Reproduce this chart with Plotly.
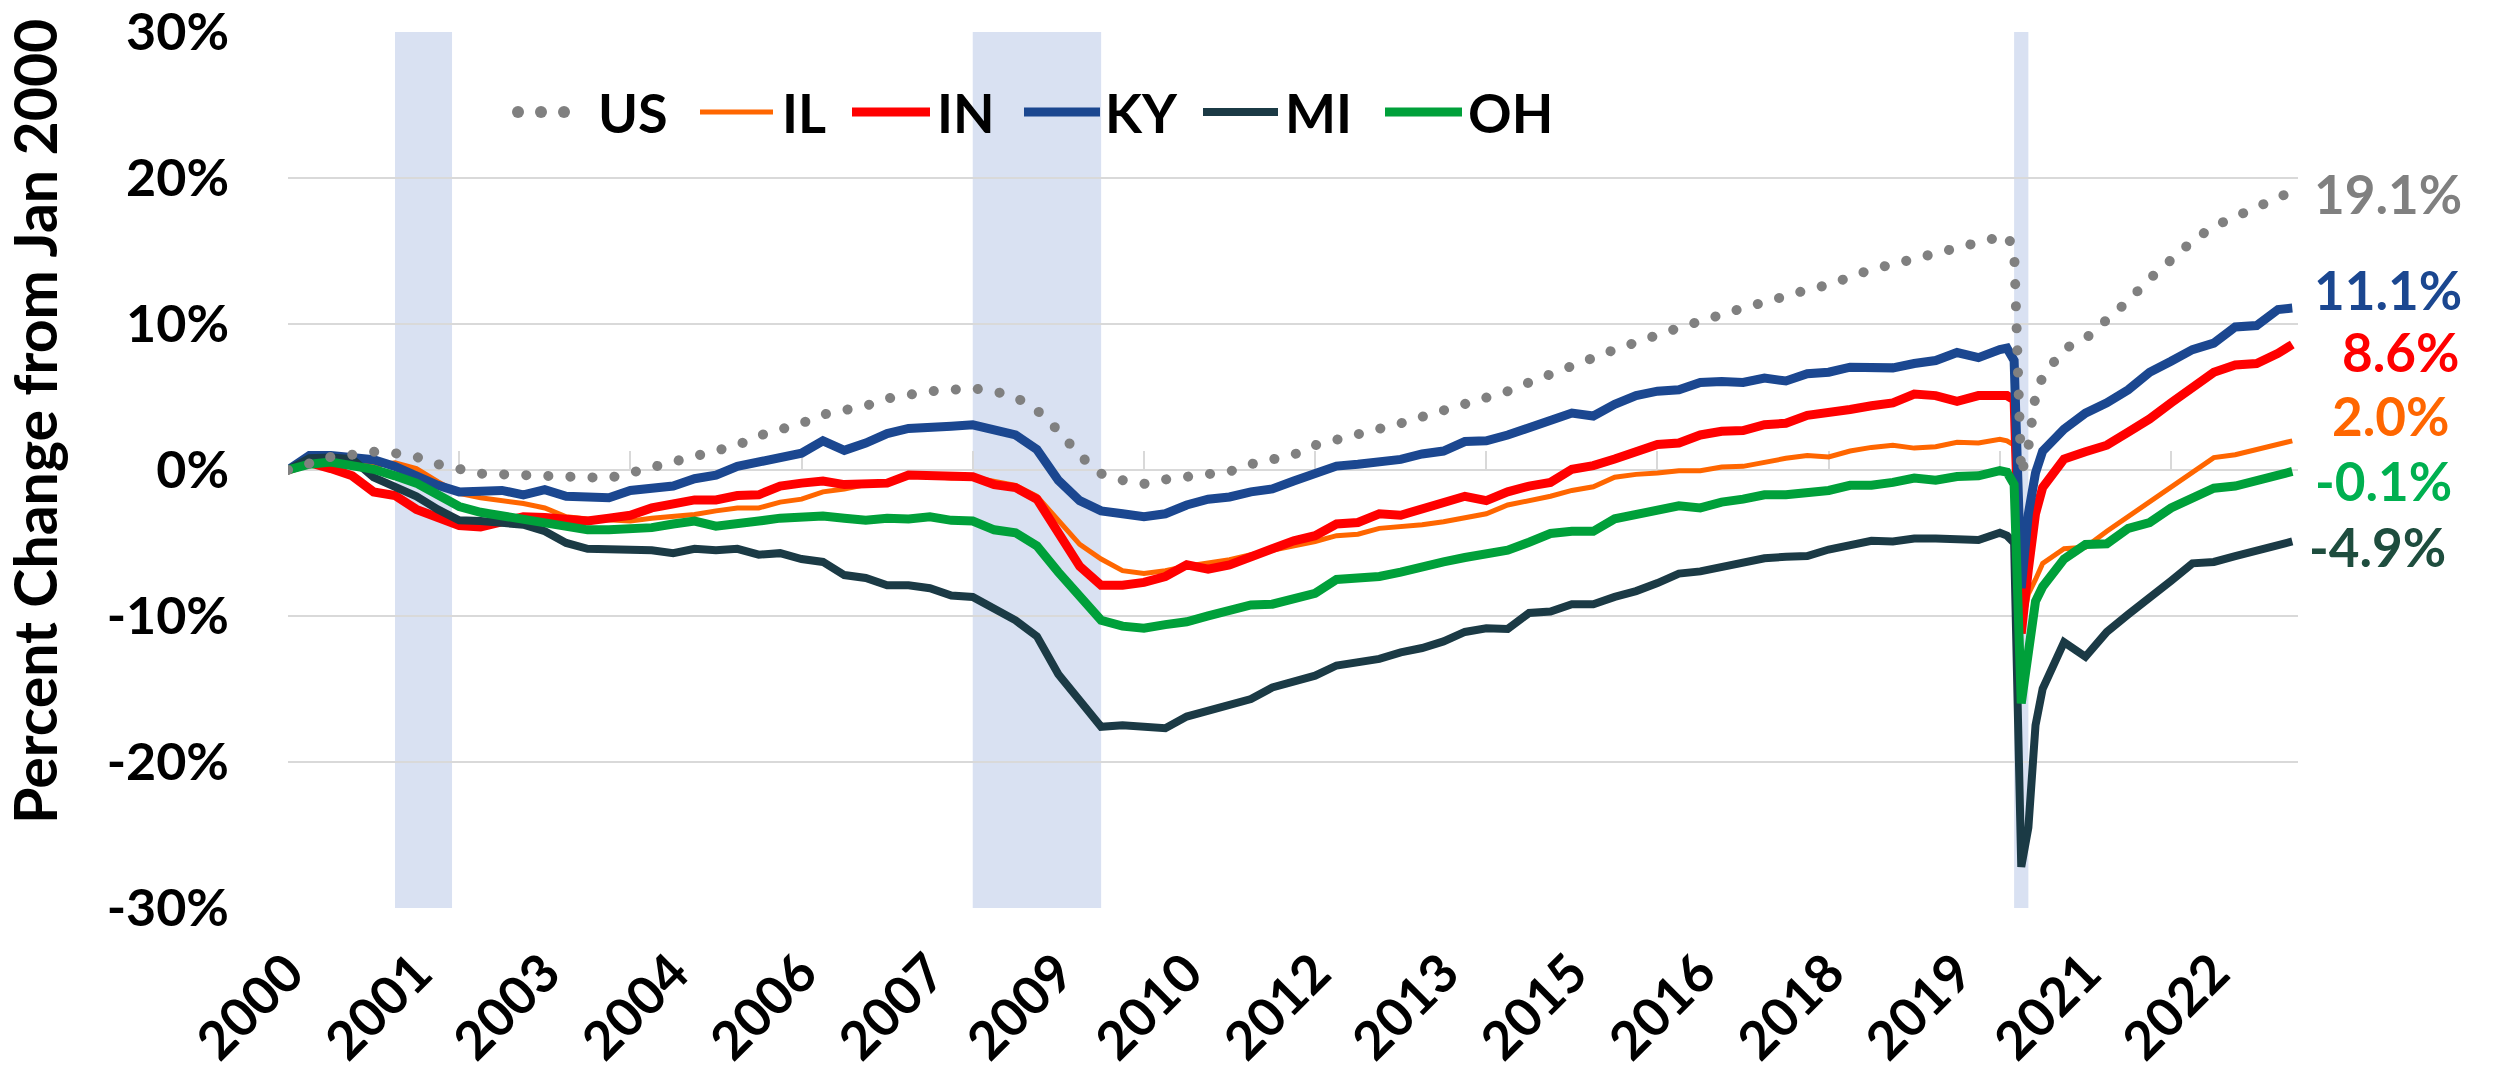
import plotly.graph_objects as go

# ---------------- data (percent change from Jan 2000) ----------------
# month index counted from Jan 2000 (0 = Jan 2000)
MONTHS = [
    0, 3, 6, 9, 12, 15, 18, 21, 24, 27,
    30, 33, 36, 39, 42, 45, 48, 51, 54, 57,
    60, 63, 66, 69, 72, 75, 78, 81, 84, 87,
    90, 93, 96, 99, 102, 105, 108, 111, 114, 117,
    120, 123, 126, 129, 132, 135, 138, 141, 144, 147,
    150, 153, 156, 159, 162, 165, 168, 171, 174, 177,
    180, 183, 186, 189, 192, 195, 198, 201, 204, 207,
    210, 213, 216, 219, 222, 225, 228, 231, 234, 237,
    240, 241, 242, 243, 244, 245, 246,
    249, 252, 255, 258, 261, 264, 267, 270, 273, 276, 279, 281,
]

US = [
    0.0, 0.5, 0.9, 1.05, 1.25, 1.15, 0.9, 0.4, 0.0, -0.25,
    -0.3, -0.35, -0.4, -0.55, -0.6, -0.55, -0.2, 0.2, 0.6, 0.9,
    1.3, 1.7, 2.35, 2.75, 3.2, 3.8, 4.1, 4.4, 4.9, 5.2,
    5.4, 5.5, 5.6, 5.4, 5.0, 4.1, 2.7, 1.0, -0.25, -0.7,
    -0.95, -0.65, -0.5, -0.3, -0.1, 0.4, 0.7, 1.05, 1.7, 2.05,
    2.4, 2.75, 3.2, 3.65, 4.05, 4.55, 4.95, 5.4, 6.0, 6.6,
    7.2, 7.7, 8.25, 8.75, 9.3, 9.75, 10.2, 10.7, 11.1, 11.5,
    12.0, 12.35, 12.7, 13.3, 13.75, 14.1, 14.5, 14.8, 15.2, 15.6,
    16.0, 16.1, 15.1, -0.3, 1.6, 5.1, 6.4,
    8.3, 9.0, 10.2, 11.6, 13.1, 14.5, 15.7, 16.7, 17.4, 18.1, 18.8, 19.1,
]

IL = [
    0.0, 0.4, 0.5, 0.4, 0.3, 0.5, 0.1, -0.8, -1.6, -1.9,
    -2.1, -2.3, -2.6, -3.2, -3.35, -3.45, -3.5, -3.3, -3.15, -3.05,
    -2.8, -2.6, -2.6, -2.2, -2.0, -1.5, -1.3, -1.0, -0.8, -0.45,
    -0.45, -0.55, -0.5, -0.8, -1.05, -1.8, -3.5, -5.1, -6.1, -6.9,
    -7.1, -6.9, -6.6, -6.4, -6.15, -5.8, -5.5, -5.2, -4.9, -4.5,
    -4.4, -4.0, -3.9, -3.75, -3.55, -3.3, -3.0, -2.4, -2.1, -1.8,
    -1.4, -1.15, -0.5, -0.3, -0.2, -0.05, -0.05, 0.2, 0.25, 0.55,
    0.8, 1.0, 0.9, 1.3, 1.55, 1.7, 1.5, 1.6, 1.9, 1.85,
    2.1, 2.0, 1.7, -10.8, -8.5, -7.5, -6.4,
    -5.4, -5.3, -4.2, -3.2, -2.2, -1.2, -0.2, 0.85, 1.05, 1.4, 1.8, 2.0,
]

IN = [
    0.0, 0.5, 0.1, -0.4, -1.5, -1.75, -2.7, -3.2, -3.8, -3.9,
    -3.6, -3.2, -3.25, -3.4, -3.5, -3.3, -3.1, -2.6, -2.25, -2.05,
    -2.05, -1.75, -1.7, -1.1, -0.9, -0.75, -1.0, -1.0, -0.9, -0.35,
    -0.4, -0.55, -0.46, -1.0, -1.2, -2.0, -4.3, -6.6, -7.9, -7.9,
    -7.7, -7.3, -6.5, -6.8, -6.5, -5.9, -5.3, -4.85, -4.5, -3.7,
    -3.6, -3.0, -3.1, -2.7, -2.2, -1.8, -2.1, -1.5, -1.1, -0.85,
    0.05, 0.3, 0.75, 1.3, 1.75, 1.85, 2.4, 2.65, 2.7, 3.1,
    3.2, 3.75, 3.9, 4.15, 4.4, 4.6, 5.2, 5.1, 4.7, 5.1,
    5.1, 5.1, 4.8, -11.2, -6.8, -3.0, -1.2,
    0.75, 1.25, 1.7, 2.6, 3.5, 4.6, 5.6, 6.7, 7.2, 7.3, 8.0, 8.6,
]

KY = [
    0.0, 1.0, 1.0, 0.9, 0.7, 0.25, -0.45, -1.05, -1.5, -1.4,
    -1.4, -1.7, -1.35, -1.8, -1.8, -1.9, -1.4, -1.2, -1.1, -0.6,
    -0.35, 0.25, 0.55, 0.95, 1.15, 2.0, 1.35, 1.85, 2.5, 2.85,
    3.0, 3.0, 3.1, 2.75, 2.4, 1.4, -0.7, -2.1, -2.8, -3.0,
    -3.2, -3.0, -2.4, -2.0, -1.85, -1.5, -1.3, -0.75, -0.2, 0.27,
    0.4, 0.5, 0.73, 1.1, 1.3, 1.95, 2.0, 2.4, 2.9, 3.4,
    3.9, 3.7, 4.5, 5.1, 5.4, 5.5, 6.0, 6.06, 6.0, 6.3,
    6.1, 6.6, 6.7, 7.05, 7.1, 7.0, 7.3, 7.5, 8.05, 7.7,
    8.25, 8.35, 7.5, -8.1, -3.0, -0.2, 1.3,
    2.8, 3.9, 4.6, 5.5, 6.7, 7.45, 8.25, 8.7, 9.8, 9.9, 11.0, 11.1,
]

MI = [
    0.0, 0.8, 0.85, 0.75, -0.5, -1.2, -1.8, -2.7, -3.45, -3.5,
    -3.6, -3.75, -4.2, -5.0, -5.4, -5.4, -5.5, -5.5, -5.7, -5.4,
    -5.5, -5.4, -5.8, -5.7, -6.1, -6.3, -7.2, -7.4, -7.9, -7.9,
    -8.1, -8.6, -8.7, -9.5, -10.3, -11.4, -14.0, -15.8, -17.6, -17.5,
    -17.6, -17.7, -16.9, -16.5, -16.2, -15.7, -14.9, -14.45, -14.1, -13.4,
    -13.2, -12.95, -12.5, -12.2, -11.75, -11.1, -10.85, -10.9, -9.8, -9.7,
    -9.2, -9.2, -8.7, -8.3, -7.75, -7.1, -6.95, -6.65, -6.25, -6.05,
    -5.95, -5.9, -5.45, -5.1, -4.85, -4.9, -4.7, -4.7, -4.7, -4.8,
    -4.3, -4.5, -5.0, -27.2, -24.5, -17.5, -15.0,
    -11.8, -12.8, -11.1, -9.9, -8.8, -7.6, -6.4, -6.3, -5.9, -5.5, -5.2, -4.9,
]

OH = [
    0.0, 0.4, 0.55, 0.3, 0.05, -0.4, -0.9, -1.7, -2.5, -2.9,
    -3.15, -3.3, -3.6, -3.95, -4.1, -4.1, -4.1, -3.95, -3.7, -3.5,
    -3.85, -3.6, -3.5, -3.3, -3.2, -3.15, -3.3, -3.45, -3.3, -3.35,
    -3.2, -3.45, -3.5, -4.1, -4.3, -5.2, -7.0, -8.6, -10.3, -10.7,
    -10.85, -10.6, -10.4, -10.0, -9.7, -9.25, -9.2, -8.75, -8.45, -7.5,
    -7.4, -7.3, -7.0, -6.6, -6.3, -6.0, -5.8, -5.5, -4.95, -4.35,
    -4.2, -4.2, -3.35, -3.1, -2.85, -2.45, -2.6, -2.2, -2.0, -1.7,
    -1.7, -1.55, -1.4, -1.05, -1.05, -0.85, -0.55, -0.7, -0.45, -0.4,
    -0.05, -0.15, -1.0, -16.0, -12.0, -9.0, -8.0,
    -6.1, -5.1, -5.05, -4.0, -3.6, -2.6, -1.95, -1.25, -1.1, -0.75, -0.45, -0.1,
]

# recession periods (month index start, end)
RECESSIONS = [(15, 23), (96, 114), (242, 244)]

# x tick labels every 18 months, tick marks every 24 months
X_TICK_MONTHS = [0, 18, 36, 54, 72, 90, 108, 126, 144, 162, 180, 198, 216, 234, 252, 270]
X_TICK_LABELS = ["2000", "2001", "2003", "2004", "2006", "2007", "2009", "2010",
                 "2012", "2013", "2015", "2016", "2018", "2019", "2021", "2022"]
X_MARK_MONTHS = [0, 24, 48, 72, 96, 120, 144, 168, 192, 216, 240, 264]
Y_TICKS = [-30, -20, -10, 0, 10, 20, 30]
Y_TICK_LABELS = ["-30%", "-20%", "-10%", "0%", "10%", "20%", "30%"]

for s in (US, IL, IN, KY, MI, OH):
    assert len(s) == len(MONTHS), len(s)

# ---------------- styles ----------------
W, H = 2494, 1084
ML, MR, MT, MB = 288, 196, 32, 176
PW, PH = W - ML - MR, H - MT - MB
FONT = "Lato, Carlito, Calibri, 'Open Sans', sans-serif"

STYLE = {
    "US": dict(color="#808080", width=10, label_color="#808080"),
    "IL": dict(color="#FF6600", width=5, label_color="#FF6600"),
    "IN": dict(color="#FF0000", width=9, label_color="#FF0000"),
    "KY": dict(color="#1B4790", width=9, label_color="#1B4790"),
    "MI": dict(color="#1B3A45", width=8, label_color="#1E4D3E"),
    "OH": dict(color="#00A03A", width=9, label_color="#00B050"),
}
DATA = {"US": US, "IL": IL, "IN": IN, "KY": KY, "MI": MI, "OH": OH}
DRAW_ORDER = ["IL", "IN", "KY", "MI", "OH", "US"]
LEGEND_ORDER = ["US", "IL", "IN", "KY", "MI", "OH"]

# layout positions (pixels in the page) for text placement
LEGEND_PX = {  # sample start, sample end, text left
    "US": (512, 570, 596), "IL": (700, 773, 780), "IN": (852, 930, 935),
    "KY": (1024, 1100, 1103), "MI": (1203, 1278, 1283), "OH": (1385, 1462, 1466),
}
LEGEND_Y = 112
END_LABEL_PX = {"US": (2312, 193), "KY": (2312, 289), "IN": (2340, 351),
                "IL": (2330, 415), "OH": (2313, 480), "MI": (2307, 546)}


def px(x):
    return (x - ML) / PW


def py(y):
    return (MT + PH - y) / PH


fig = go.Figure()

for name in DRAW_ORDER:
    st = STYLE[name]
    line = dict(color=st["color"], width=st["width"])
    if name == "US":
        line["dash"] = "9px,13px"
    fig.add_trace(go.Scatter(x=MONTHS, y=DATA[name], mode="lines", name=name,
                             line=line, showlegend=False, hoverinfo="x+y+name"))

# dummy trace for tick-mark axis at 0%
fig.add_trace(go.Scatter(x=[None], y=[None], xaxis="x2", yaxis="y",
                         showlegend=False, hoverinfo="skip"))

shapes = []
for a, b in RECESSIONS:
    shapes.append(dict(type="rect", xref="x", yref="paper", x0=a, x1=b, y0=0, y1=1,
                       fillcolor="#D9E1F2", line=dict(width=0), layer="between"))

annotations = []
# legend
for name in LEGEND_ORDER:
    st = STYLE[name]
    x0, x1, tx = LEGEND_PX[name]
    if name == "US":
        for k in range(3):
            cx = x0 + 6 + k * 23
            shapes.append(dict(type="circle", xref="paper", yref="paper",
                               x0=px(cx - 6), x1=px(cx + 6), y0=py(LEGEND_Y + 6), y1=py(LEGEND_Y - 6),
                               fillcolor=st["color"], line=dict(width=0)))
    else:
        shapes.append(dict(type="line", xref="paper", yref="paper",
                           x0=px(x0), x1=px(x1), y0=py(LEGEND_Y), y1=py(LEGEND_Y),
                           line=dict(color=st["color"], width=st["width"])))
    annotations.append(dict(text=name, xref="paper", yref="paper", x=px(tx), y=py(LEGEND_Y),
                            xanchor="left", yanchor="middle", showarrow=False, height=50,
                            font=dict(family=FONT, size=54, color="black", weight="bold")))

# end labels
for name, (lx, ly) in END_LABEL_PX.items():
    v = DATA[name][-1]
    annotations.append(dict(text=f"{v:.1f}%", xref="paper", yref="paper", x=px(lx), y=py(ly),
                            xanchor="left", yanchor="middle", showarrow=False, height=46,
                            font=dict(family=FONT, size=53, color=STYLE[name]["label_color"], weight="bold")))

# y-axis title
annotations.append(dict(text="Percent Change from Jan 2000", xref="paper", yref="paper",
                        x=px(34), y=py(422), xanchor="center", yanchor="middle", textangle=-90,
                        showarrow=False, font=dict(family=FONT, size=59, color="black", weight="bold")))

XR = [0, 281.8]
fig.update_layout(
    width=W, height=H,
    margin=dict(l=ML, r=MR, t=MT, b=MB, autoexpand=False),
    paper_bgcolor="white", plot_bgcolor="white",
    showlegend=False,
    xaxis=dict(range=XR, tickmode="array", tickvals=X_TICK_MONTHS, ticktext=X_TICK_LABELS,
               tickangle=-45, showgrid=False, zeroline=False, showline=False, ticks="",
               tickfont=dict(family=FONT, size=53, color="black", weight="bold"),
               ticklabelstandoff=22, ticklabeloverflow="allow", automargin=False, fixedrange=True),
    xaxis2=dict(range=XR, overlaying="x", anchor="free", position=0.5, side="bottom",
                tickmode="array", tickvals=X_MARK_MONTHS, ticks="inside", ticklen=18,
                tickwidth=2, tickcolor="#D9D9D9", showticklabels=False, showline=True,
                linecolor="#D9D9D9", linewidth=2, showgrid=False, zeroline=False,
                layer="below traces", automargin=False),
    yaxis=dict(range=[-30.02, 30.02], tickmode="array", tickvals=Y_TICKS, ticktext=Y_TICK_LABELS,
               showgrid=True, gridcolor="#D9D9D9", gridwidth=2, zeroline=False, showline=False,
               ticks="", tickfont=dict(family=FONT, size=52, color="black", weight="bold"),
               ticklabelstandoff=58, ticklabeloverflow="allow", automargin=False, fixedrange=True),
    shapes=shapes,
    annotations=annotations,
)

POST = """
document.documentElement.style.margin = '0';
document.body.style.margin = '0';
document.body.style.overflow = 'hidden';
var gd = document.getElementById('{plot_id}');
function fixDots(){
  gd.querySelectorAll('path.js-line').forEach(function(p){
    var s = (p.style.stroke || '').replace(/\\s/g,'');
    if (s === 'rgb(128,128,128)') {
      p.style.strokeLinecap = 'round';
      p.style.strokeDasharray = '0.1px,22px';
    }
  });
}
fixDots();
gd.on('plotly_afterplot', fixDots);
"""

fig.write_html("out.html", post_script=POST, config={"displayModeBar": False})
